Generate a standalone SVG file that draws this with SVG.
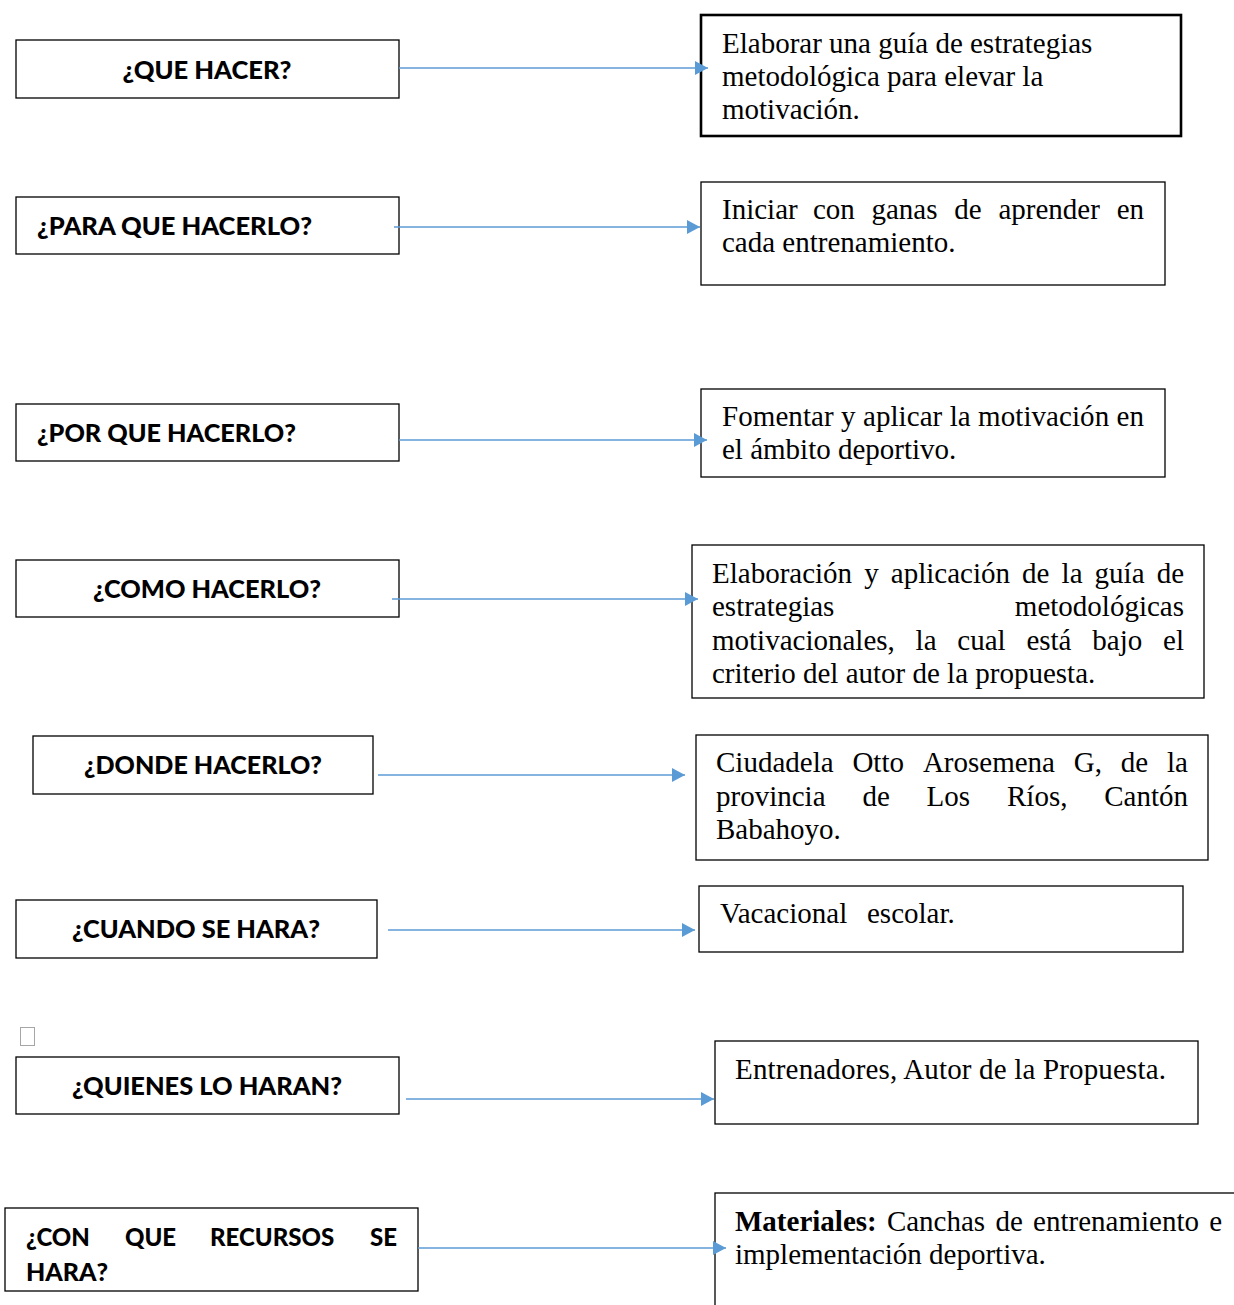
<svg xmlns="http://www.w3.org/2000/svg" width="1234" height="1305" viewBox="0 0 1234 1305">
<style>
.bg{fill:#ffffff}
.lbox{fill:#ffffff;stroke:#000000;stroke-width:1.3}
.rbox{fill:#ffffff;stroke:#000000;stroke-width:1.3}
.thick{stroke-width:2.6}
.q{font-family:Lato,"Liberation Sans",sans-serif;font-weight:900;font-size:24px;fill:#000000}
.a{font-family:"Liberation Serif","Times New Roman",serif;font-size:29px;fill:#000000}
.b{font-weight:bold}
.conn{stroke:#5B9BD5;stroke-width:1.5;fill:none}
</style>
<defs>
<marker id="arr" markerUnits="userSpaceOnUse" markerWidth="14" markerHeight="14" refX="13" refY="7" orient="auto">
<path d="M0,0 L13,7 L0,14 Z" fill="#5B9BD5"/>
</marker>
</defs>
<rect class="bg" x="0" y="0" width="1234" height="1305"/>

<g id="q1"><rect class="lbox" x="16" y="40" width="383" height="58"/><text class="q" x="207" y="79" text-anchor="middle" textLength="169" lengthAdjust="spacingAndGlyphs">¿QUE HACER?</text></g>
<g id="q2"><rect class="lbox" x="16" y="197" width="383" height="57"/><text class="q" x="37" y="235" textLength="275" lengthAdjust="spacingAndGlyphs">¿PARA QUE HACERLO?</text></g>
<g id="q3"><rect class="lbox" x="16" y="404" width="383" height="57"/><text class="q" x="37" y="442" textLength="259" lengthAdjust="spacingAndGlyphs">¿POR QUE HACERLO?</text></g>
<g id="q4"><rect class="lbox" x="16" y="560" width="383" height="57"/><text class="q" x="93" y="598" textLength="228" lengthAdjust="spacingAndGlyphs">¿COMO HACERLO?</text></g>
<g id="q5"><rect class="lbox" x="33" y="736" width="340" height="58"/><text class="q" x="84" y="774" textLength="238" lengthAdjust="spacingAndGlyphs">¿DONDE HACERLO?</text></g>
<g id="q6"><rect class="lbox" x="16" y="900" width="361" height="58"/><text class="q" x="72" y="938" textLength="248" lengthAdjust="spacingAndGlyphs">¿CUANDO SE HARA?</text></g>
<g id="marker-square"><rect x="20.5" y="1027.5" width="14" height="18" fill="#ffffff" stroke="#a6a6a6" stroke-width="1"/></g>
<g id="q7"><rect class="lbox" x="16" y="1057" width="383" height="57"/><text class="q" x="72" y="1095" textLength="270" lengthAdjust="spacingAndGlyphs">¿QUIENES LO HARAN?</text></g>
<g id="q8"><rect class="lbox" x="5" y="1208" width="413" height="83"/>
<text class="q" y="1246"><tspan x="26">¿CON</tspan><tspan x="125">QUE</tspan><tspan x="210">RECURSOS</tspan><tspan x="397" text-anchor="end">SE</tspan></text>
<text class="q" x="26" y="1281" textLength="82" lengthAdjust="spacingAndGlyphs">HARA?</text></g>

<g id="a1"><rect class="rbox thick" x="701" y="15" width="480" height="121"/>
<text class="a" x="722" y="53">Elaborar una guía de estrategias</text>
<text class="a" x="722" y="86">metodológica para elevar la</text>
<text class="a" x="722" y="119">motivación.</text></g>
<g id="a2"><rect class="rbox" x="701" y="182" width="464" height="103"/>
<text class="a" y="219"><tspan x="722">Iniciar</tspan><tspan x="812.9">con</tspan><tspan x="871.5">ganas</tspan><tspan x="954.3">de</tspan><tspan x="998.4">aprender</tspan><tspan x="1144" text-anchor="end">en</tspan></text>
<text class="a" x="722" y="252">cada entrenamiento.</text></g>
<g id="a3"><rect class="rbox" x="701" y="389" width="464" height="88"/>
<text class="a" x="722" y="426" textLength="422" lengthAdjust="spacing">Fomentar y aplicar la motivación en</text>
<text class="a" x="722" y="459">el ámbito deportivo.</text></g>
<g id="a4"><rect class="rbox" x="692" y="545" width="512" height="153"/>
<text class="a" y="583"><tspan x="712">Elaboración</tspan><tspan x="864.2">y</tspan><tspan x="890.8">aplicación</tspan><tspan x="1022.1">de</tspan><tspan x="1061.6">la</tspan><tspan x="1094.6">guía</tspan><tspan x="1184" text-anchor="end">de</tspan></text>
<text class="a" y="616"><tspan x="712">estrategias</tspan><tspan x="1184" text-anchor="end">metodológicas</tspan></text>
<text class="a" y="650"><tspan x="712">motivacionales,</tspan><tspan x="915.6">la</tspan><tspan x="957.3">cual</tspan><tspan x="1026.4">está</tspan><tspan x="1092.3">bajo</tspan><tspan x="1184" text-anchor="end">el</tspan></text>
<text class="a" x="712" y="683">criterio del autor de la propuesta.</text></g>
<g id="a5"><rect class="rbox" x="696" y="735" width="512" height="125"/>
<text class="a" y="772"><tspan x="716">Ciudadela</tspan><tspan x="852.4">Otto</tspan><tspan x="922.9">Arosemena</tspan><tspan x="1073.8">G,</tspan><tspan x="1120.8">de</tspan><tspan x="1188" text-anchor="end">la</tspan></text>
<text class="a" y="806"><tspan x="716">provincia</tspan><tspan x="862.4">de</tspan><tspan x="926.6">Los</tspan><tspan x="1007">Ríos,</tspan><tspan x="1188" text-anchor="end">Cantón</tspan></text>
<text class="a" x="716" y="839">Babahoyo.</text></g>
<g id="a6"><rect class="rbox" x="699" y="886" width="484" height="66"/>
<text class="a" y="923"><tspan x="720">Vacacional</tspan><tspan x="867">escolar.</tspan></text></g>
<g id="a7"><rect class="rbox" x="715" y="1041" width="483" height="83"/>
<text class="a" x="735" y="1079" textLength="431" lengthAdjust="spacing">Entrenadores, Autor de la Propuesta.</text></g>
<g id="a8"><rect class="rbox" x="715" y="1193" width="530" height="130"/>
<text class="a" y="1231"><tspan class="b" x="735">Materiales:</tspan><tspan x="886.9">Canchas</tspan><tspan x="995.5">de</tspan><tspan x="1033.1">entrenamiento</tspan><tspan x="1222" text-anchor="end">e</tspan></text>
<text class="a" x="735" y="1264">implementación deportiva.</text></g>

<g id="connectors">
<line class="conn" x1="399" y1="68" x2="708" y2="68" marker-end="url(#arr)"/>
<line class="conn" x1="394" y1="227" x2="700" y2="227" marker-end="url(#arr)"/>
<line class="conn" x1="399" y1="440" x2="707" y2="440" marker-end="url(#arr)"/>
<line class="conn" x1="392" y1="599" x2="698" y2="599" marker-end="url(#arr)"/>
<line class="conn" x1="378" y1="775" x2="685" y2="775" marker-end="url(#arr)"/>
<line class="conn" x1="388" y1="930" x2="695" y2="930" marker-end="url(#arr)"/>
<line class="conn" x1="406" y1="1099" x2="714" y2="1099" marker-end="url(#arr)"/>
<line class="conn" x1="418" y1="1248" x2="726" y2="1248" marker-end="url(#arr)"/>
</g>
</svg>
